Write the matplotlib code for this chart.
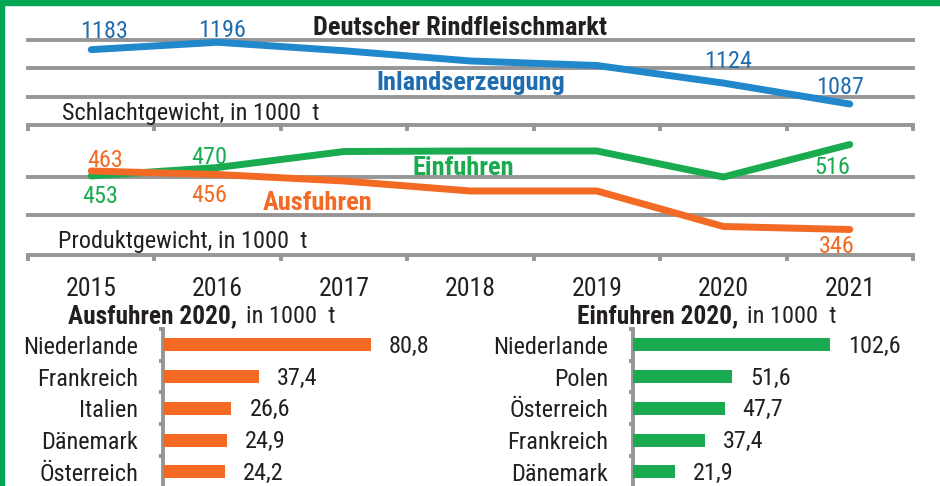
import matplotlib
matplotlib.use("Agg")
import matplotlib.pyplot as plt
from matplotlib.patches import Rectangle

# data
years = ["2015", "2016", "2017", "2018", "2019", "2020", "2021"]
inland = [1183, 1196, 1181, 1163, 1155, 1124, 1087]
einfuhr = [453, 470, 502, 503, 503, 451, 516]
ausfuhr = [463, 456, 443, 423, 423, 352, 346]

aus_laender = ["Niederlande", "Frankreich", "Italien", "Dänemark", "Österreich"]
aus_werte = [80.8, 37.4, 26.6, 24.9, 24.2]
ein_laender = ["Niederlande", "Polen", "Österreich", "Frankreich", "Dänemark"]
ein_werte = [102.6, 51.6, 47.7, 37.4, 21.9]

plt.rcParams["font.family"] = ["Roboto Condensed", "DejaVu Sans"]

BLUE = "#2288cc"
BLUE_T = "#1f6db0"
GREEN = "#1aab50"
ORANGE = "#f26a24"
GRAY = "#969696"
TXT = "#231f20"
FS = 17.5
FSB = 19

W, H = 940, 486
fig = plt.figure(figsize=(W / 100, H / 100), dpi=100)


def px_axes(x0, y0, x1, y1):
    return fig.add_axes([x0 / W, 1 - y1 / H, (x1 - x0) / W, (y1 - y0) / H])


def ftext(x, y, s, **kw):
    kw.setdefault("fontsize", FS)
    kw.setdefault("color", TXT)
    kw.setdefault("va", "baseline")
    return fig.text(x / W, 1 - y / H, s, **kw)


# green frame
fig.patches.append(Rectangle((0, 1 - 5 / H), 1, 5 / H, transform=fig.transFigure,
                             color="#00a651", zorder=0))
fig.patches.append(Rectangle((0, 0), 3.5 / W, 1, transform=fig.transFigure,
                             color="#00a651", zorder=0))

x = list(range(len(years)))
bounds = [i - 0.5 for i in range(len(years) + 1)]


def line_axes(ax, ylim, grid):
    ax.set_xlim(-0.5, len(years) - 0.5)
    ax.set_ylim(*ylim)
    for s in ["top", "left", "right"]:
        ax.spines[s].set_visible(False)
    ax.spines["bottom"].set_color(GRAY)
    ax.spines["bottom"].set_linewidth(2.8)
    ax.set_yticks([])
    ax.set_xticks(bounds)
    ax.set_xticklabels([])
    ax.tick_params(axis="x", which="major", direction="out", length=4,
                   width=2.8, color=GRAY)
    for g in grid:
        ax.axhline(g, color=GRAY, lw=2.8, zorder=1, clip_on=False)
    ax.patch.set_alpha(0)


# top: Inlandserzeugung (Schlachtgewicht)
ax1 = px_axes(28, 40, 913, 125)
line_axes(ax1, (1050, 1200), [1100, 1150, 1200])
ax1.plot(x, inland, color=BLUE, lw=5, solid_capstyle="round",
         solid_joinstyle="round", zorder=3, clip_on=False)
for i, dx, dy in [(0, 13, 12), (1, 4, 5), (5, 5, 15), (6, -10, 10)]:
    ax1.annotate(str(inland[i]), (i, inland[i]), xytext=(dx * 0.72, dy * 0.72),
                 textcoords="offset points", ha="center", va="baseline",
                 fontsize=FS, color=BLUE_T)

# middle: Einfuhren / Ausfuhren (Produktgewicht)
ax2 = px_axes(28, 125, 913, 255)
line_axes(ax2, (295, 555), [375, 450])
ax2.plot(x, einfuhr, color=GREEN, lw=5, solid_capstyle="round",
         solid_joinstyle="round", zorder=3)
ax2.plot(x, ausfuhr, color=ORANGE, lw=5, solid_capstyle="round",
         solid_joinstyle="round", zorder=4)
ax2.set_xticks(x, minor=True)
ax2.set_xticklabels(years, minor=True, fontsize=18.5, color=TXT)
ax2.tick_params(axis="x", which="minor", length=0, pad=16)
for vals, col, offs in [(einfuhr, GREEN, [(0, 9, -27), (1, -8, 4), (6, -18, -30)]),
                        (ausfuhr, ORANGE, [(0, 14, 4), (1, -8, -27), (6, -13, -23)])]:
    for i, dx, dy in offs:
        ax2.annotate(str(vals[i]), (i, vals[i]), xytext=(dx * 0.72, dy * 0.72),
                     textcoords="offset points", ha="center", va="baseline",
                     fontsize=FS, color=col)

ftext(313, 35, "Deutscher Rindfleischmarkt", fontweight="bold", fontsize=FSB)
ftext(376, 90, "Inlandserzeugung", fontweight="bold", fontsize=FSB, color=BLUE_T)
ftext(62, 120, "Schlachtgewicht, in 1000  t")
ftext(412, 175, "Einfuhren", fontweight="bold", fontsize=FSB, color=GREEN)
ftext(263, 210, "Ausfuhren", fontweight="bold", fontsize=FSB, color=ORANGE)
ftext(58, 248, "Produktgewicht, in 1000  t")


# bottom: bar charts 2020
def bar_axes(x0, scale, labels, vals, col):
    n = len(labels)
    top, step = 329, 31.75
    bottom = top + step * (n + 1)
    ax = px_axes(x0, top, x0 + scale * 150, bottom)
    ax.set_xlim(0, 150)
    ax.set_ylim(n + 0.5, -0.5)
    ax.barh(range(n), vals, height=0.41, color=col, zorder=3)
    for s in ["top", "bottom", "right"]:
        ax.spines[s].set_visible(False)
    ax.spines["left"].set_color(GRAY)
    ax.spines["left"].set_linewidth(2.8)
    ax.set_xticks([])
    ax.set_yticks([i - 0.5 for i in range(n + 2)])
    ax.set_yticklabels([])
    ax.tick_params(axis="y", which="major", direction="out", length=3,
                   width=2.8, color=GRAY)
    ax.set_yticks(range(n), minor=True)
    ax.set_yticklabels(labels, minor=True, fontsize=FS, color=TXT)
    ax.tick_params(axis="y", which="minor", length=0, pad=18)
    for i, v in enumerate(vals):
        ax.annotate(f"{v:.1f}".replace(".", ","), (v, i), xytext=(13, -1),
                    textcoords="offset points", ha="left", va="center",
                    fontsize=FS, color=TXT, annotation_clip=False)
    ax.patch.set_alpha(0)
    return ax


bar_axes(163, 208 / 80.8, aus_laender, aus_werte, ORANGE)
bar_axes(633, 197 / 102.6, ein_laender, ein_werte, GREEN)

# bar titles: bold part, then regular part right behind it
renderer = fig.canvas.get_renderer()
for x0, head in [(68, "Ausfuhren 2020,"), (577, "Einfuhren 2020,")]:
    t = ftext(x0, 323, head, fontweight="bold", fontsize=18.3)
    x1 = t.get_window_extent(renderer).x1
    ftext(x1 + 9, 323, "in 1000  t")

fig.savefig("out.png", dpi=100)
